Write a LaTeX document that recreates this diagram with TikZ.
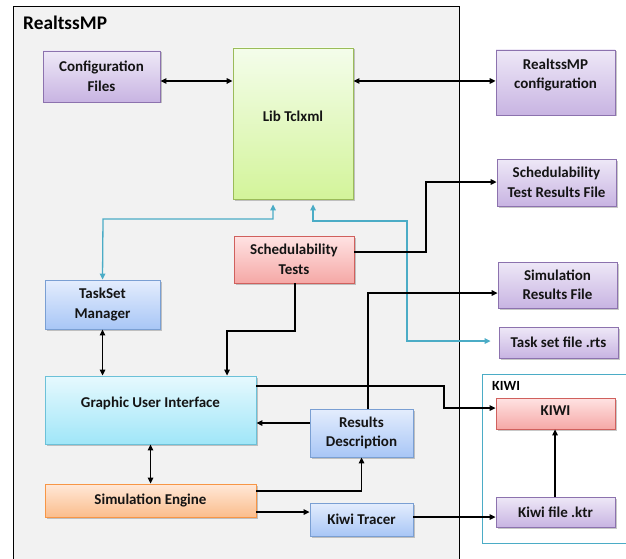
\documentclass[tikz,border=0pt]{standalone}
\usepackage{fontspec}
\setmainfont{Carlito}
\usetikzlibrary{arrows.meta,shadows}
\definecolor{bggray}{HTML}{F2F2F2}
\definecolor{purpT}{HTML}{EEE8F7}\definecolor{purpB}{HTML}{C8B4E2}\definecolor{purpD}{HTML}{8C72AE}
\definecolor{grnT}{HTML}{F4FDEB}\definecolor{grnB}{HTML}{D3F49A}\definecolor{grnD}{HTML}{9BBB59}
\definecolor{redT}{HTML}{FFE3E3}\definecolor{redB}{HTML}{F5A8A6}\definecolor{redD}{HTML}{D0605D}
\definecolor{bluT}{HTML}{E4EDFD}\definecolor{bluB}{HTML}{A8C6F6}\definecolor{bluD}{HTML}{7A9FD3}
\definecolor{cyaT}{HTML}{E6F9FE}\definecolor{cyaB}{HTML}{A0E6F8}\definecolor{cyaD}{HTML}{6CC1D8}
\definecolor{orgT}{HTML}{FFE8D8}\definecolor{orgB}{HTML}{FBBD8C}\definecolor{orgD}{HTML}{F79646}
\definecolor{linkcyan}{HTML}{4BACC6}
\definecolor{txt}{HTML}{141414}
\begin{document}
\begin{tikzpicture}[x=1pt,y=-1pt,
  box/.style={draw=#1D, line width=0.8pt, top color=#1T, bottom color=#1B,
    align=center, inner sep=2pt, text=txt,
    font=\fontsize{15}{19.5}\selectfont\bfseries,
    drop shadow={shadow xshift=1.5pt, shadow yshift=-1.5pt, opacity=0.3, fill=black!70}},
  conn/.style={line width=1.3pt, draw=black, -{Triangle[length=6pt,width=5.5pt]}},
  biconn/.style={line width=1.3pt, draw=black, {Triangle[length=6pt,width=5.5pt]}-{Triangle[length=6pt,width=5.5pt]}},
  cyconn/.style={line width=1.3pt, draw=linkcyan, {Triangle[length=6pt,width=5.5pt]}-{Triangle[length=6pt,width=5.5pt]}},
]
\clip (0,0) rectangle (626,559);
\fill[white] (0,0) rectangle (626,559);

% outer frames
\node[draw=black, line width=0.9pt, fill=bggray, minimum width=446, minimum height=570, anchor=north west, inner sep=0] (realtss) at (13,6) {};
\node[anchor=west, font=\fontsize{19.3}{22}\selectfont\bfseries, inner sep=0] (title) at (23,23) {RealtssMP};
\node[draw=linkcyan, line width=0.9pt, fill=white, minimum width=160, minimum height=169, anchor=north west, inner sep=0] (kiwiframe) at (482,374) {};
\node[anchor=west, font=\fontsize{14}{16}\selectfont\bfseries, inner sep=0] (kiwititle) at (492,386) {KIWI};

% nodes
\node[box=purp, minimum width=117, minimum height=51] (cfg) at (101.5,76.5) {Configuration\\Files};
\node[box=grn, minimum width=120, minimum height=151, text depth=15pt] (lib) at (293,123.5) {Lib Tclxml};
\node[box=purp, minimum width=119, minimum height=65, text depth=18pt] (rcfg) at (555.5,82.5) {RealtssMP\\configuration};
\node[box=purp, minimum width=119, minimum height=47] (strf) at (556.5,182.5) {Schedulability\\Test Results File};
\node[box=purp, minimum width=119, minimum height=46] (srf) at (557.5,285) {Simulation\\Results File};
\node[box=purp, minimum width=119, minimum height=31] (tsf) at (558.5,342.5) {Task set file .rts};
\node[box=red, minimum width=119, minimum height=31, text depth=6pt] (kiwi) at (555.5,413.5) {KIWI};
\node[box=purp, minimum width=119, minimum height=30] (kf) at (555.5,512) {Kiwi file .ktr};
\node[box=red, minimum width=120, minimum height=47] (st) at (294,259.5) {Schedulability\\Tests};
\node[box=blu, minimum width=115, minimum height=49] (tsm) at (102.5,304.5) {TaskSet\\Manager};
\node[box=cya, minimum width=211, minimum height=68, text depth=16pt] (gui) at (150.5,410) {Graphic User Interface};
\node[box=blu, minimum width=103, minimum height=48] (rd) at (361.5,433) {Results\\Description};
\node[box=org, minimum width=211, minimum height=33] (se) at (150.5,500.5) {Simulation Engine};
\node[box=blu, minimum width=103, minimum height=33] (kt) at (361.5,519.5) {Kiwi Tracer};

% connectors
\draw[biconn] (cfg.east |- 0,81) -- (lib.west |- 0,81);
\draw[biconn] (lib.east |- 0,81) -- (rcfg.west |- 0,81);
\draw[cyconn, shorten <=5pt] (lib.south -| 273,0) -- (273,219) -- (103,219) -- (tsm.north);
\draw[cyconn, shorten <=5pt, shorten >=8pt] (lib.south -| 313,0) -- (313,221) -- (407,221) -- (407,341) -- (tsf.west |- 0,341);
\draw[conn] (st.east |- 0,252) -- (426,252) -- (426,182) -- (strf.west |- 0,182);
\draw[conn] (st.south -| 295,0) -- (295,331) -- (227,331) -- (gui.north -| 227,0);
\draw[biconn] (tsm.south) -- (gui.north -| tsm.south);
\draw[biconn] (gui.south) -- (se.north);
\draw[conn] (gui.east |- 0,386) -- (444,386) -- (444,408) -- (kiwi.west |- 0,408);
\draw[conn] (rd.west |- 0,423) -- (gui.east |- 0,423);
\draw[conn] (rd.north -| 368,0) -- (368,293) -- (srf.west |- 0,293);
\draw[conn] (se.east |- 0,491) -- (361.5,491) -- (rd.south);
\draw[conn] (se.east |- 0,512) -- (kt.west |- 0,512);
\draw[conn] (kt.east |- 0,517) -- (kf.west |- 0,517);
\draw[conn] (kf.north -| 555,0) -- (kiwi.south -| 555,0);
\end{tikzpicture}
\end{document}
